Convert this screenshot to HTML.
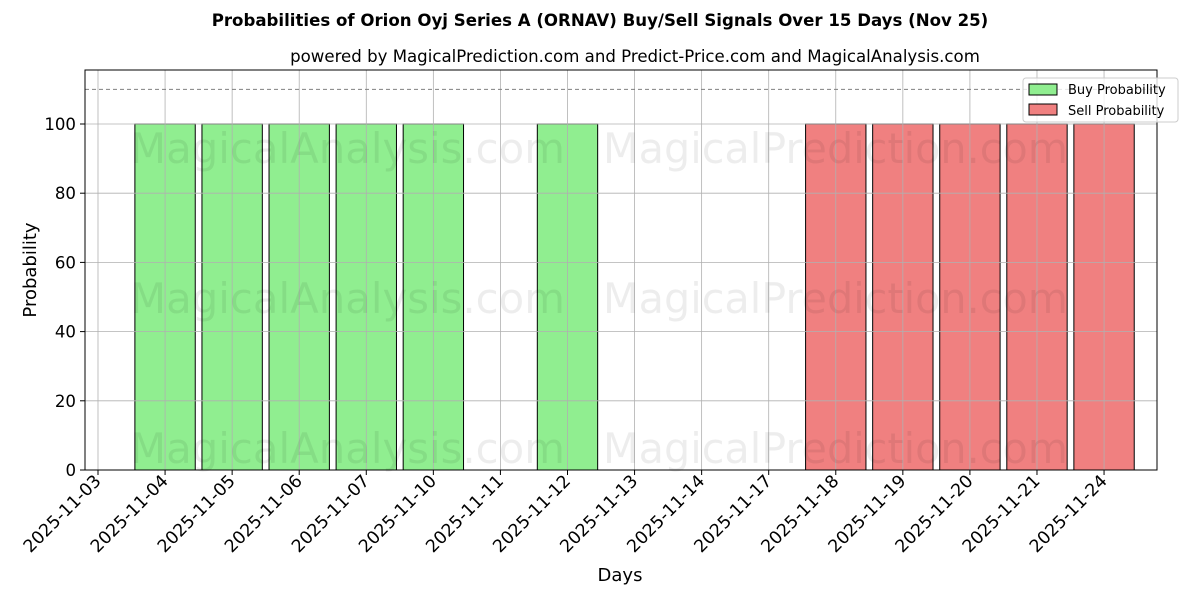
<!DOCTYPE html>
<html><head><meta charset="utf-8">
<style>
body{margin:0;background:#fff;}
svg{display:block;font-family:"DejaVu Sans","Liberation Sans",sans-serif;}
</style></head>
<body>
<svg id="chart" width="1200" height="600" viewBox="0 0 1200 600" xmlns="http://www.w3.org/2000/svg">
<rect width="1200" height="600" fill="#fff"/>
<text x="600" y="26" text-anchor="middle" font-size="16.6" font-weight="bold">Probabilities of Orion Oyj Series A (ORNAV) Buy/Sell Signals Over 15 Days (Nov 25)</text>
<text x="635" y="62" text-anchor="middle" font-size="16.6">powered by MagicalPrediction.com and Predict-Price.com and MagicalAnalysis.com</text>
<g id="bars"></g>
<g id="grid"></g>
<g id="watermarks" font-size="42" fill="#000" fill-opacity="0.07">
<text x="130" y="163" textLength="435" lengthAdjust="spacingAndGlyphs">MagicalAnalysis.com</text>
<text x="603" y="163" textLength="465" lengthAdjust="spacingAndGlyphs">MagicalPrediction.com</text>
<text x="130" y="313" textLength="435" lengthAdjust="spacingAndGlyphs">MagicalAnalysis.com</text>
<text x="603" y="313" textLength="465" lengthAdjust="spacingAndGlyphs">MagicalPrediction.com</text>
<text x="130" y="463" textLength="435" lengthAdjust="spacingAndGlyphs">MagicalAnalysis.com</text>
<text x="603" y="463" textLength="465" lengthAdjust="spacingAndGlyphs">MagicalPrediction.com</text>
</g>
<g id="axes"></g>
<text x="620" y="581" text-anchor="middle" font-size="18">Days</text>
<text transform="translate(36,270) rotate(-90)" text-anchor="middle" font-size="18">Probability</text>
<g>
<rect x="1023" y="78" width="155" height="44" rx="3" fill="#fff" fill-opacity="0.8" stroke="#ccc"/>
<rect x="1029" y="84" width="28" height="11" fill="#90ee90" stroke="#000"/>
<text x="1068" y="94" font-size="13">Buy Probability</text>
<rect x="1029" y="104" width="28" height="11" fill="#f08080" stroke="#000"/>
<text x="1068" y="115" font-size="13">Sell Probability</text>
</g>
</svg>
<script>
const categories = ["2025-11-03","2025-11-04","2025-11-05","2025-11-06","2025-11-07","2025-11-10","2025-11-11","2025-11-12","2025-11-13","2025-11-14","2025-11-17","2025-11-18","2025-11-19","2025-11-20","2025-11-21","2025-11-24"];
const buyValues = [0,100,100,100,100,100,0,100,0,0,0,0,0,0,0,0];
const sellValues = [0,0,0,0,0,0,0,0,0,0,0,100,100,100,100,100];
const yTicks = [0,20,40,60,80,100];
const refLine = 110;

const NS="http://www.w3.org/2000/svg";
const L=85,R=1157,T=70,B=470;
const x0=98, step=67.07;
const xS=i=>x0+i*step;
const yS=v=>B-v*3.46;
function mk(tag,attrs,parent,txt){const e=document.createElementNS(NS,tag);for(const k in attrs)e.setAttribute(k,attrs[k]);if(txt!==undefined)e.textContent=txt;parent.appendChild(e);return e;}
const grid=document.getElementById('grid'),bars=document.getElementById('bars'),axes=document.getElementById('axes');
categories.forEach((c,i)=>{const g=mk('line',{x1:xS(i),x2:xS(i),y1:T,y2:B,stroke:'#b0b0b0','stroke-width':0.8},grid);

});
yTicks.forEach(v=>{const g=mk('line',{x1:L,x2:R,y1:yS(v),y2:yS(v),stroke:'#b0b0b0','stroke-width':0.8},grid);

});
const rl=mk('line',{x1:L,x2:R,y1:yS(refLine),y2:yS(refLine),stroke:'#808080','stroke-dasharray':'4,3','stroke-width':1},grid);


const bw=step*0.9;
categories.forEach((c,i)=>{
 if(buyValues[i]>0){const b=mk('rect',{x:xS(i)-bw/2,y:yS(buyValues[i]),width:bw,height:B-yS(buyValues[i]),fill:'#90ee90',stroke:'#000','stroke-width':1},bars);
 
 }
 if(sellValues[i]>0){const b=mk('rect',{x:xS(i)-bw/2,y:yS(sellValues[i]),width:bw,height:B-yS(sellValues[i]),fill:'#f08080',stroke:'#000','stroke-width':1},bars);
 
 }
});
const fr=mk('rect',{x:L,y:T,width:R-L,height:B-T,fill:'none',stroke:'#000','stroke-width':1},axes);


yTicks.forEach(v=>{mk('line',{x1:L-5,x2:L,y1:yS(v),y2:yS(v),stroke:'#000'},axes);
 const t=mk('text',{x:L-9,y:yS(v)+6,'text-anchor':'end','font-size':16.6},axes,String(v));
 
 });
categories.forEach((c,i)=>{mk('line',{x1:xS(i),x2:xS(i),y1:B,y2:B+5,stroke:'#000'},axes);
 const t=mk('text',{transform:`translate(${xS(i)+4},${B+12}) rotate(-45)`,'text-anchor':'end','font-size':17.4},axes,c);
 
 });
</script>
</body></html>
